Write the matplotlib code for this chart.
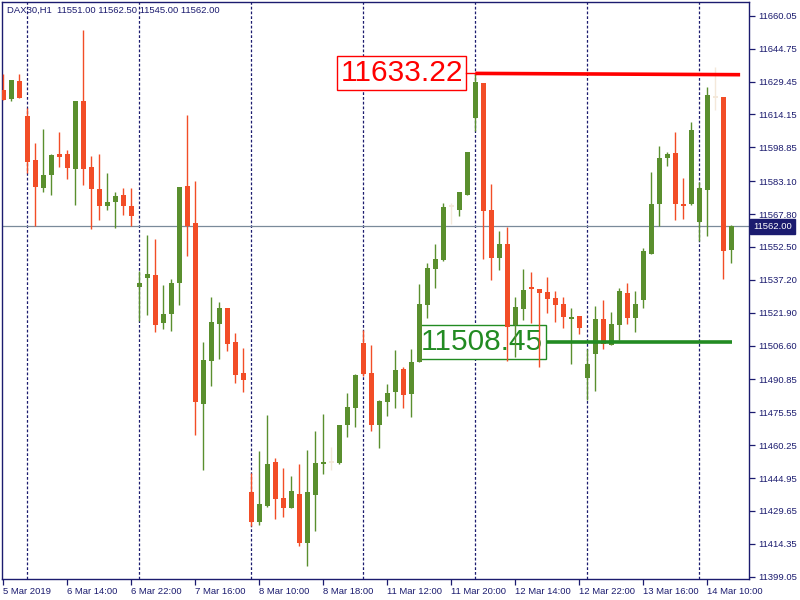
import matplotlib
matplotlib.use("Agg")
import matplotlib.pyplot as plt
import matplotlib.transforms as mtransforms

# ---------------- data ----------------
symbol_header = "DAX30,H1  11551.00 11562.50 11545.00 11562.00"

opens = [11625.5, 11621.3, 11629.7, 11613.4, 11592.9, 11579.9, 11585.9, 11595.7, 11595.7, 11588.7,
         11620.4, 11589.7, 11579.4, 11571.5, 11573.4, 11576.6, 11571.5, 11533.8, 11538.0, 11539.4,
         11517.1, 11521.3, 11535.7, 11580.8, 11563.6, 11479.4, 11499.4, 11516.6, 11524.1, 11508.3,
         11493.8, 11438.5, 11424.5, 11432.0, 11452.4, 11435.7, 11431.0, 11437.5, 11414.8, 11437.1,
         11451.5, 11452.4, 11452.0, 11469.6, 11477.5, 11507.8, 11493.8, 11469.6, 11480.3, 11485.0,
         11495.7, 11484.1, 11499.0, 11525.5, 11542.2, 11546.4, 11571.5, 11569.7, 11576.6, 11612.5,
         11628.7, 11569.7, 11547.3, 11553.8, 11516.2, 11523.6, 11533.8, 11532.9, 11531.5, 11528.7,
         11525.9, 11519.0, 11520.4, 11491.5, 11502.7, 11519.0, 11506.9, 11516.2, 11531.1, 11519.4,
         11527.8, 11549.2, 11572.5, 11593.9, 11596.2, 11572.5, 11572.5, 11564.1, 11579.0, 11622.2,
         11622.2, 11551.0]
highs = [11632.9, 11630.1, 11632.8, 11617.1, 11600.8, 11607.3, 11595.7, 11605.9, 11597.6, 11620.4,
         11653.4, 11594.8, 11595.7, 11586.9, 11578.0, 11579.9, 11579.9, 11541.3, 11558.0, 11556.2,
         11534.8, 11537.6, 11580.4, 11613.9, 11583.2, 11508.3, 11529.2, 11526.9, 11524.1, 11512.4,
         11505.5, 11447.3, 11457.5, 11474.3, 11454.3, 11449.6, 11445.9, 11451.5, 11458.0, 11466.9,
         11474.8, 11459.4, 11469.6, 11484.5, 11493.4, 11513.8, 11506.9, 11481.3, 11488.7, 11504.5,
         11496.6, 11505.0, 11535.2, 11545.0, 11553.8, 11572.9, 11572.9, 11578.0, 11596.6, 11633.22,
         11628.7, 11581.8, 11559.9, 11561.8, 11529.2, 11542.2, 11540.8, 11532.9, 11538.5, 11532.0,
         11529.2, 11524.1, 11520.4, 11505.0, 11525.0, 11527.8, 11522.2, 11533.4, 11535.7, 11532.0,
         11552.0, 11587.3, 11599.4, 11596.6, 11605.9, 11584.5, 11610.6, 11582.7, 11626.9, 11636.2,
         11622.2, 11562.5]
lows = [11620.8, 11620.4, 11621.8, 11586.9, 11562.2, 11578.0, 11576.6, 11589.7, 11584.1, 11572.0,
        11581.3, 11560.8, 11565.0, 11569.7, 11561.3, 11567.3, 11562.2, 11518.0, 11520.8, 11512.9,
        11514.3, 11513.4, 11525.5, 11548.3, 11465.0, 11448.7, 11487.8, 11500.3, 11504.1, 11489.2,
        11485.0, 11422.7, 11423.1, 11431.5, 11425.9, 11426.8, 11431.0, 11413.4, 11404.1, 11420.3,
        11446.9, 11448.7, 11451.5, 11464.1, 11468.7, 11492.4, 11466.9, 11458.9, 11473.8, 11477.5,
        11477.5, 11473.4, 11499.0, 11519.4, 11533.4, 11545.9, 11563.2, 11566.9, 11576.6, 11606.4,
        11546.9, 11537.1, 11541.7, 11499.4, 11501.3, 11518.5, 11517.1, 11496.6, 11521.7, 11517.6,
        11514.8, 11498.0, 11512.0, 11481.3, 11485.5, 11505.0, 11506.9, 11509.2, 11516.6, 11512.9,
        11524.1, 11549.2, 11562.2, 11590.1, 11565.0, 11565.5, 11572.0, 11555.2, 11557.6, 11616.2,
        11537.6, 11545.0]
closes = [11620.8, 11630.1, 11621.8, 11592.0, 11580.4, 11585.9, 11595.2, 11594.3, 11589.2, 11620.4,
          11588.7, 11579.4, 11571.5, 11573.4, 11576.2, 11571.5, 11566.9, 11535.7, 11539.9, 11516.2,
          11521.3, 11535.7, 11580.4, 11562.2, 11480.3, 11499.9, 11517.6, 11524.1, 11507.3, 11492.9,
          11490.6, 11424.5, 11432.9, 11451.5, 11435.2, 11431.0, 11438.9, 11414.8, 11438.5, 11452.0,
          11452.4, 11452.4, 11469.6, 11478.0, 11492.9, 11493.4, 11469.6, 11480.8, 11484.5, 11495.2,
          11483.6, 11499.0, 11525.9, 11542.7, 11546.9, 11571.1, 11571.5, 11578.0, 11596.6, 11629.2,
          11569.2, 11547.3, 11553.8, 11515.2, 11524.5, 11532.4, 11532.9, 11531.1, 11528.3, 11525.5,
          11519.9, 11519.9, 11514.8, 11498.0, 11519.0, 11507.3, 11516.6, 11532.0, 11519.4, 11525.9,
          11550.6, 11572.5, 11593.9, 11595.7, 11572.5, 11571.5, 11606.9, 11579.9, 11623.2, 11622.2,
          11550.6, 11562.0]

time_labels = ["5 Mar 2019", "6 Mar 14:00", "6 Mar 22:00", "7 Mar 16:00", "8 Mar 10:00",
               "8 Mar 18:00", "11 Mar 12:00", "11 Mar 20:00", "12 Mar 14:00", "12 Mar 22:00",
               "13 Mar 16:00", "14 Mar 10:00"]
time_label_bars = [0, 8, 16, 24, 32, 40, 48, 56, 64, 72, 80, 88]
day_separator_bars = [3, 17, 31, 45, 59, 73, 87]

price_ticks = [11660.05, 11644.75, 11629.45, 11614.15, 11598.85, 11583.10, 11567.80, 11552.50,
               11537.20, 11521.90, 11506.60, 11490.85, 11475.55, 11460.25, 11444.95, 11429.65,
               11414.35, 11399.05]

current_price = 11562.00
resistance_level = 11633.22
support_level = 11508.45

# ---------------- style ----------------
NAVY = "#1b1b6f"
BULL = "#5a8f2e"
BEAR = "#f24d27"
DOJI = "#f4e8da"
FONT = "Liberation Sans"
SMALL = 6.8

fig = plt.figure(figsize=(8, 6), dpi=100)
fig.patch.set_facecolor("white")
ax = fig.add_axes([2.3 / 800, 1 - 579 / 600, 746.7 / 800, 576.7 / 600])
ax.set_facecolor("white")

n = len(opens)
xs = list(range(n))

# day separators
for b in day_separator_bars:
    ax.axvline(b, color=NAVY, lw=0.9, ls=(0, (2.2, 1.6)), zorder=1)

# current price line
ax.axhline(current_price, color="#7a8a9a", lw=0.9, zorder=1.5)

# candles
for i in xs:
    o, h, l, c = opens[i], highs[i], lows[i], closes[i]
    if c > o:
        col = BULL
    elif c < o:
        col = BEAR
    else:
        col = DOJI
    ax.vlines(i, l, h, color=col, lw=1.0, zorder=4)
    bottom = min(o, c)
    height = max(abs(c - o), 0.9)
    ax.bar(i, height, bottom=bottom - (0.45 if c == o else 0), width=0.62,
           color=col, edgecolor="none", zorder=5, linewidth=0)

# resistance line
ax.plot([57.8, 59], [resistance_level, resistance_level], color="#ff0000", lw=1.0, zorder=6)
ax.plot([59, 92.1], [resistance_level, resistance_level - 0.6], color="#ff0000", lw=2.6,
        zorder=6, solid_capstyle="butt")
# support line
ax.plot([67.8, 91.1], [support_level, support_level], color="#228b22", lw=2.6, zorder=6,
        solid_capstyle="butt")

# level labels
ax.text(57.45, resistance_level, f"{resistance_level:.2f}", color="#ff0000", fontsize=21.5,
        family="Liberation Sans", ha="right", va="center", zorder=3,
        bbox=dict(boxstyle="square,pad=0.1", facecolor="white", edgecolor="#ff0000", lw=1.0))
ax.text(67.45, support_level, f"{support_level:.2f}", color="#228b22", fontsize=21.5,
        family="Liberation Sans", ha="right", va="center", zorder=3,
        bbox=dict(boxstyle="square,pad=0.1", facecolor="white", edgecolor="#228b22", lw=1.0))

# limits
ax.set_xlim(-0.125, 93.21)
ax.set_ylim(11398.0, 11666.3)

# axes styling
for s in ax.spines.values():
    s.set_color(NAVY)
    s.set_linewidth(1.0)

ax.yaxis.tick_right()
ax.set_yticks(price_ticks)
ax.set_yticklabels([f"{p:.2f}" for p in price_ticks])
ax.set_xticks(time_label_bars)
ax.set_xticklabels(time_labels)
ax.tick_params(axis="y", direction="out", length=4, width=0.9, color=NAVY, pad=2.5,
               labelsize=SMALL, labelcolor=NAVY)
ax.tick_params(axis="x", direction="out", length=4, width=0.9, color=NAVY, pad=2,
               labelsize=SMALL, labelcolor=NAVY)
for t in ax.get_xticklabels():
    t.set_horizontalalignment("left")
    t.set_family(FONT)
for t in ax.get_yticklabels():
    t.set_family(FONT)

# current price tag on the right axis
trans = mtransforms.blended_transform_factory(ax.transAxes, ax.transData)
ax.text(1.0 + 4 / 746.7, current_price, f"{current_price:.2f}", transform=trans,
        color="white", fontsize=SMALL, family=FONT, ha="left", va="center", zorder=10,
        clip_on=False,
        bbox=dict(boxstyle="square,pad=0.3", facecolor=NAVY, edgecolor=NAVY))

# header
fig.text(7 / 800, 1 - 10 / 600, symbol_header, color=NAVY, fontsize=SMALL, family=FONT,
         ha="left", va="center")

fig.savefig("out.png", dpi=100)
